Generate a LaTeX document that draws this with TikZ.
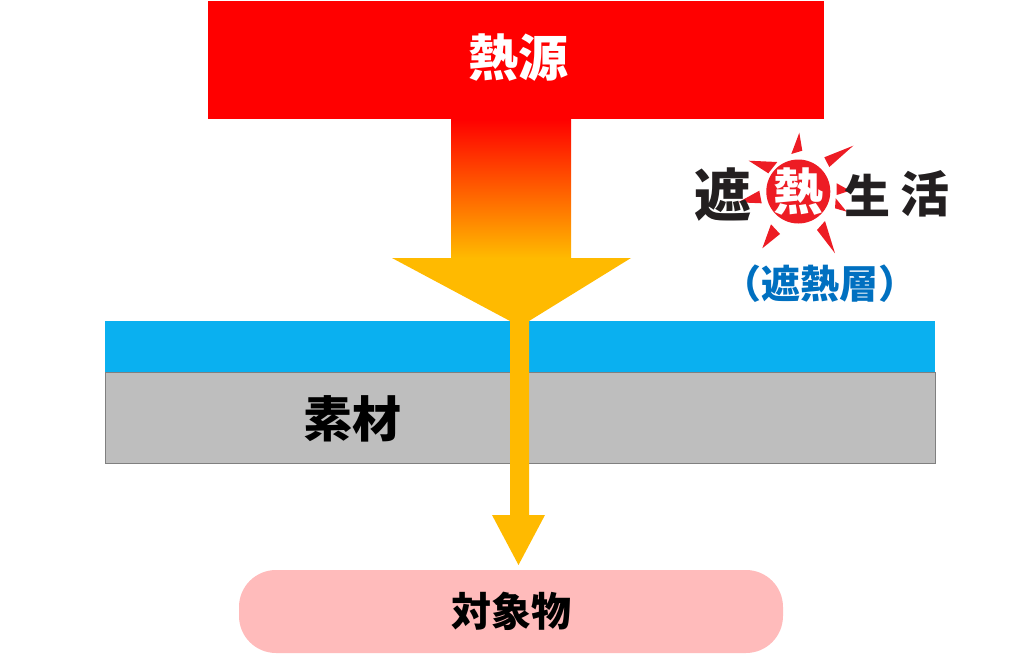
\documentclass[tikz,border=0pt]{standalone}
\usepackage{fontspec}
\setmainfont{Noto Sans CJK JP}
\newfontfamily\logofont{Noto Sans CJK JP Black}
\usepackage{xcolor}
\definecolor{flowcol}{HTML}{FFBA00}
\definecolor{shieldcol}{HTML}{0AB0F0}
\definecolor{basecol}{HTML}{BEBEBE}
\definecolor{targetcol}{HTML}{FFBBBB}
\definecolor{labelcol}{HTML}{0070C0}
\definecolor{suncol}{HTML}{ED1C24}
\definecolor{inkcol}{HTML}{231F20}
\tikzset{
  band/.style = {shape=rectangle, inner sep=0pt, outer sep=0pt},
  caption/.style = {inner sep=0pt, outer sep=0pt, font=\bfseries\fontsize{#1}{#1}\selectfont},
  logochar/.style = {inner sep=0pt, outer sep=0pt, text=inkcol, font=\logofont\fontsize{#1}{#1}\selectfont},
  ray/.style = {fill=suncol, draw=none}
}
\begin{document}
\begin{tikzpicture}[x=1pt, y=-1pt]
  \useasboundingbox (0,0) rectangle (1036,656);
  \node[band, fill=shieldcol, minimum width=830pt, minimum height=51pt] (shield) at (520,346.5) {};
  \node[band, fill=basecol, draw=gray, minimum width=830pt, minimum height=91pt] (base) at (520,417.5) {};
  \node[band, fill=red, minimum width=616pt, minimum height=118pt] (source) at (516,60) {};
  \node[band, fill=targetcol, rounded corners=37pt, minimum width=544pt, minimum height=83pt] (target) at (511,611.5) {};
  % heat flow
  \shade[top color=red, bottom color=flowcol] (451,119) rectangle (571,258);
  \fill[flowcol] (392,258) -- (631,258) -- (529,321) -- (529,515) -- (545,515)
    -- (518.5,565) -- (492,515) -- (510,515) -- (510,321) -- cycle;
  % labels
  \node[caption=50, text=white] (sourcetext) at (518,58) {熱源};
  \node[caption=49] (basetext) at (352.5,419) {素材};
  \node[caption=40] (targettext) at (511,611) {対象物};
  % logo
  \fill[suncol] (798.3,191.5) circle (32);
  \foreach \a/\b/\c/\d/\e/\f in {
    799.3/132.7/802.3/150.7/791.3/154,
    853.3/145.7/829.3/167/824.3/157.3,
    748.7/160.7/777.3/162/768.3/173.3,
    738.3/202.3/759.3/190.7/761.7/203.3,
    836.7/183.3/850/190.7/836.7/195,
    835.7/198.3/846.7/211.7/835/208.3,
    762.3/248.3/771/224.3/780/234,
    835/253.3/817/230/825/221}
    \fill[ray] (\a,\b) -- (\c,\d) -- (\e,\f) -- cycle;
  \node[logochar=57] (logoa) at (723,195) {遮};
  \node[logochar=46] (logob) at (867,195) {生};
  \node[logochar=49] (logoc) at (925,194) {活};
  \node[logochar=50, text=white] (logoheat) at (798,192) {熱};
  \node[caption=39, text=labelcol] (shieldtext) at (820,284) {（遮熱層）};
\end{tikzpicture}
\end{document}
